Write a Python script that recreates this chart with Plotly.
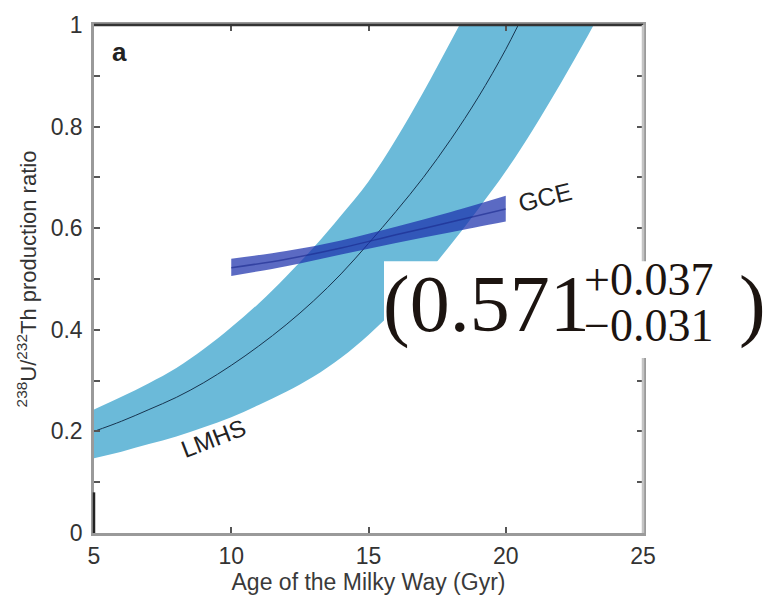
import plotly.graph_objects as go

# ---------------- data ----------------
# LMHS band (age in Gyr -> 238U/232Th production ratio)
lmhs_mid_age = [5, 6, 7, 8, 9, 10, 11, 12, 13, 14, 15, 16, 17, 18, 19, 20, 21]
lmhs_mid_val = [0.200, 0.220, 0.243, 0.267, 0.296, 0.330, 0.368, 0.410, 0.457,
                0.510, 0.570, 0.633, 0.700, 0.775, 0.858, 0.952, 1.060]

lmhs_up_age = [5, 6, 7, 8, 9, 10, 11, 12, 13, 14, 15, 16, 17, 18, 19]
lmhs_up_val = [0.243, 0.268, 0.295, 0.325, 0.362, 0.405, 0.452, 0.505, 0.562,
               0.625, 0.692, 0.775, 0.868, 0.968, 1.070]

lmhs_lo_age = [5, 6, 7, 8, 9, 10, 11, 12, 13, 14, 15, 16, 17, 18, 19, 20, 21, 22, 23, 24]
lmhs_lo_val = [0.147, 0.160, 0.175, 0.190, 0.208, 0.228, 0.252, 0.278, 0.308,
               0.345, 0.390, 0.442, 0.502, 0.568, 0.638, 0.712, 0.795, 0.885, 0.980, 1.080]

# GCE band
gce_age = [10, 12, 14, 16, 18, 20]
gce_up = [0.540, 0.555, 0.576, 0.603, 0.632, 0.664]
gce_mid = [0.522, 0.539, 0.561, 0.587, 0.612, 0.638]
gce_lo = [0.506, 0.525, 0.548, 0.571, 0.592, 0.613]

x_ticks = [5, 10, 15, 20, 25]
y_ticks = [0, 0.2, 0.4, 0.6, 0.8, 1.0]
y_ticktext = ["0", "0.2", "0.4", "0.6", "0.8", "1"]
y_minor = [0.1, 0.3, 0.5, 0.7, 0.9]

ratio_value = "0.571"
ratio_plus = "+0.037"
ratio_minus = "\u22120.031"

# ---------------- figure ----------------
W, H = 772, 604
L, R, T, B = 94, 129, 19, 71
pw, ph = W - L - R, H - T - B


def px(xp):
    return (xp - L) / pw


def py(yp):
    return (H - B - yp) / ph


SANS = "Liberation Sans, Arial, Helvetica, sans-serif"
SERIF = "Liberation Serif, Times New Roman, serif"

fig = go.Figure()

# LMHS band: lower edge, then upper edge filled down to it
fig.add_trace(go.Scatter(
    x=lmhs_lo_age, y=lmhs_lo_val, mode="lines",
    line=dict(width=0, shape="spline"), hoverinfo="skip", showlegend=False))
fig.add_trace(go.Scatter(
    x=lmhs_up_age, y=lmhs_up_val, mode="lines", fill="tonexty",
    fillcolor="#6bbad9", line=dict(width=0, shape="spline"),
    hoverinfo="skip", showlegend=False))
fig.add_trace(go.Scatter(
    x=lmhs_mid_age, y=lmhs_mid_val, mode="lines",
    line=dict(color="#17344f", width=1, shape="spline"), showlegend=False))

# GCE band
fig.add_trace(go.Scatter(
    x=gce_age, y=gce_lo, mode="lines",
    line=dict(width=0, shape="spline"), hoverinfo="skip", showlegend=False))
fig.add_trace(go.Scatter(
    x=gce_age, y=gce_up, mode="lines", fill="tonexty",
    fillcolor="rgba(28,48,172,0.72)", line=dict(width=0, shape="spline"),
    hoverinfo="skip", showlegend=False))
fig.add_trace(go.Scatter(
    x=gce_age, y=gce_mid, mode="lines",
    line=dict(color="rgba(25,40,140,0.6)", width=1.5, shape="spline"),
    showlegend=False))

fig.update_layout(
    width=W, height=H,
    margin=dict(l=L, r=R, t=T, b=B, pad=0),
    paper_bgcolor="white", plot_bgcolor="white",
    font=dict(family=SANS, color="#333", size=22),
    showlegend=False,
    xaxis=dict(range=[5, 25], tickvals=x_ticks, ticks="inside", ticklen=6,
               tickcolor="#555", tickwidth=1.5,
               showline=True, linecolor="#9a9a9a", linewidth=3, mirror="ticks",
               showgrid=False, zeroline=False,
               tickfont=dict(size=23, color="#333"),
               title=dict(text="Age of the Milky Way (Gyr)",
                          font=dict(size=23, color="#3a3a3a"), standoff=4)),
    yaxis=dict(range=[0, 1], tickvals=y_ticks, ticktext=y_ticktext,
               ticks="inside", ticklen=6, tickcolor="#555", tickwidth=1.5,
               minor=dict(tickvals=y_minor, ticks="inside", ticklen=6,
                          tickcolor="#555", tickwidth=1.5),
               showline=True, linecolor="#9a9a9a", linewidth=2.5, mirror="ticks",
               showgrid=False, zeroline=False,
               tickfont=dict(size=23, color="#333"), ticklabelstandoff=4,
               title=dict(text="<sup>238</sup>U/<sup>232</sup>Th production ratio",
                          font=dict(size=22, color="#333"), standoff=8)),
)

# darker top spine, lighter right spine, dark lower part of left spine
fig.add_shape(type="line", xref="paper", yref="paper", x0=0, x1=1, y0=1, y1=1,
              line=dict(color="#333", width=2.5), layer="above")
fig.add_shape(type="line", xref="paper", yref="paper", x0=1, x1=1, y0=0, y1=1,
              line=dict(color="#c4c4c4", width=2.5), layer="above")
fig.add_shape(type="line", xref="paper", yref="paper", x0=0, x1=0, y0=0, y1=0.08,
              line=dict(color="#222", width=2.5), layer="above")

# white overlay box with the ratio
fig.add_shape(type="rect", xref="paper", yref="paper",
              x0=px(384), x1=px(775), y0=py(356), y1=py(258),
              fillcolor="white", line=dict(width=0), layer="above")

annos = [
    dict(text="<b>a</b>", x=px(110), y=py(46), xanchor="left", yanchor="middle",
         font=dict(size=26, color="#222", family=SANS)),
    dict(text="LMHS", x=px(213), y=py(437), xanchor="center", yanchor="middle",
         textangle=-21, font=dict(size=24, color="#222", family=SANS)),
    dict(text="GCE", x=px(545), y=py(193), xanchor="center", yanchor="middle",
         textangle=-14, font=dict(size=25, color="#222", family=SANS)),
    dict(text="(" + ratio_value, x=px(381), y=py(302), xanchor="left", yanchor="middle",
         font=dict(size=80, color="#1c1410", family=SERIF)),
    dict(text=ratio_plus, x=px(582), y=py(277), xanchor="left", yanchor="middle",
         font=dict(size=46, color="#1c1410", family=SERIF)),
    dict(text=ratio_minus, x=px(582), y=py(323), xanchor="left", yanchor="middle",
         font=dict(size=46, color="#1c1410", family=SERIF)),
    dict(text=")", x=px(737), y=py(302), xanchor="left", yanchor="middle",
         font=dict(size=80, color="#1c1410", family=SERIF)),
]
for a in annos:
    a.update(xref="paper", yref="paper", showarrow=False)
    fig.add_annotation(**a)

fig.write_html("out.html")
